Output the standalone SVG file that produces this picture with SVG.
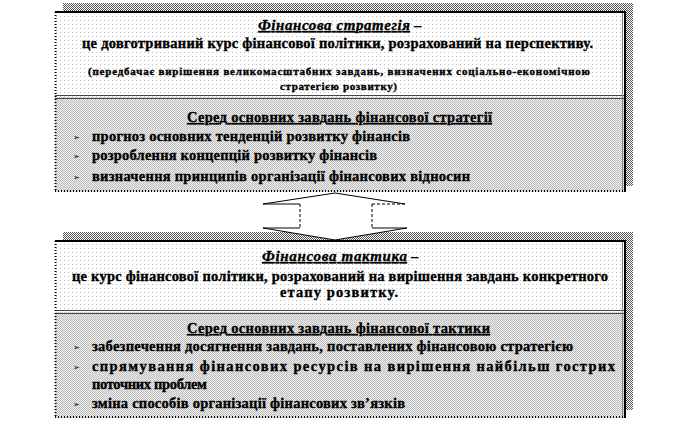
<svg xmlns="http://www.w3.org/2000/svg" width="696" height="424" viewBox="0 0 696 424">
<defs>
  <pattern id="hatch" width="2" height="2" patternUnits="userSpaceOnUse">
    <rect width="2" height="2" fill="#ffffff"/>
    <rect width="1" height="1" fill="#555555"/>
    <rect x="1" y="1" width="1" height="1" fill="#555555"/>
  </pattern>
  <pattern id="dots" width="4" height="4" patternUnits="userSpaceOnUse">
    <rect width="4" height="4" fill="#ffffff"/>
    <rect width="1" height="1" fill="#bdbdbd"/>
  </pattern>
  <pattern id="dense" width="2" height="2" patternUnits="userSpaceOnUse">
    <rect width="2" height="2" fill="#f0f0f0"/>
    <rect width="1" height="1" fill="#bcbcbc"/>
    <rect x="1" y="1" width="1" height="1" fill="#bcbcbc"/>
  </pattern>
  <style>
    .t{font-family:"Liberation Serif","Times New Roman",serif;font-weight:bold;fill:#000;stroke:#000;stroke-width:0.35}
    .m{font-size:14.5px}
    .s{font-size:11px}
    .ti{font-size:15px;font-style:italic;text-decoration:underline}
    .u{text-decoration:underline}
    .b{font-family:"DejaVu Sans",sans-serif;font-size:8px;fill:#000}
    .solid{stroke:#000;stroke-width:2;fill:none}
    .dot{stroke:#000;stroke-width:2;stroke-dasharray:1 2;fill:none}
    .div{stroke:#444;stroke-width:1;fill:none}
  </style>
</defs>

<g id="strategy">
  <rect x="63" y="3" width="570" height="183" fill="url(#hatch)"/>
  <rect x="55" y="12" width="570" height="85" fill="url(#dots)"/>
  <rect x="55" y="97" width="570" height="95" fill="url(#dense)"/>
  <line class="div" x1="55" y1="95.5" x2="625" y2="95.5"/>
  <line class="div" x1="55" y1="98.5" x2="625" y2="98.5"/>
  <line class="solid" x1="55" y1="12" x2="626" y2="12"/>
  <line class="solid" x1="625" y1="11" x2="625" y2="192"/>
  <line x1="622.5" y1="13" x2="622.5" y2="191" stroke="#888" stroke-width="1"/>
  <line class="dot" x1="55.5" y1="12" x2="55.5" y2="192"/>
  <line class="dot" x1="55" y1="191" x2="625" y2="191"/>
  <text class="t ti" x="258" y="30" textLength="152">Фінансова стратегія</text>
  <text class="t m" x="414" y="30">–</text>
  <text class="t m" x="82" y="48" textLength="511">це довготриваний курс фінансової політики, розрахований на перспективу.</text>
  <text class="t s" x="88" y="75" textLength="502">(передбачає вирішення великомасштабних  завдань, визначених соціально-економічною</text>
  <text class="t s" x="280" y="90" textLength="117">стратегією розвитку)</text>
  <text class="t m u" x="187" y="122" textLength="305">Серед основних завдань фінансової стратегії</text>
  <text class="b" x="73" y="140">➢</text>
  <text class="t m" x="92" y="141" textLength="318">прогноз основних тенденцій розвитку фінансів</text>
  <text class="b" x="73" y="159">➢</text>
  <text class="t m" x="92" y="160" textLength="285">розроблення концепцій розвитку фінансів</text>
  <text class="b" x="73" y="180">➢</text>
  <text class="t m" x="92" y="181" textLength="378">визначення принципів організації фінансових відносин</text>
</g>

<g id="tactics">
  <rect x="63" y="232" width="570" height="178" fill="url(#hatch)"/>
  <rect x="55" y="241" width="570" height="71" fill="url(#dots)"/>
  <rect x="55" y="312" width="570" height="106" fill="url(#dense)"/>
  <line class="div" x1="55" y1="310.5" x2="625" y2="310.5"/>
  <line class="div" x1="55" y1="313.5" x2="625" y2="313.5"/>
  <line class="solid" x1="55" y1="241" x2="626" y2="241"/>
  <line class="solid" x1="625" y1="240" x2="625" y2="418"/>
  <line x1="622.5" y1="242" x2="622.5" y2="417" stroke="#888" stroke-width="1"/>
  <line class="dot" x1="55.5" y1="241" x2="55.5" y2="418"/>
  <line class="dot" x1="55" y1="417" x2="625" y2="417"/>
  <text class="t ti" x="262" y="261" textLength="145">Фінансова тактика</text>
  <text class="t m" x="411" y="261">–</text>
  <text class="t m" x="72" y="281" textLength="536">це курс фінансової політики, розрахований на вирішення завдань конкретного</text>
  <text class="t m" x="280" y="297" textLength="118">етапу розвитку.</text>
  <text class="t m u" x="187" y="333" textLength="303">Серед основних завдань фінансової тактики</text>
  <text class="b" x="73" y="350">➢</text>
  <text class="t m" x="92" y="351" textLength="481">забезпечення досягнення завдань, поставлених фінансовою стратегією</text>
  <text class="b" x="73" y="370">➢</text>
  <text class="t m" x="92" y="371" textLength="523">спрямування   фінансових   ресурсів   на   вирішення   найбільш   гострих</text>
  <text class="t m" x="92" y="389" textLength="115">поточних проблем</text>
  <text class="b" x="73" y="407">➢</text>
  <text class="t m" x="92" y="408" textLength="313">зміна способів організації фінансових зв’язків</text>
</g>

<g id="connectors">
  <polygon points="335,193 405,204 372,204 372,228 407,228 335,240 263,228 300,228 300,204 263,204" fill="#ffffff"/>
  <polyline points="263,204 335,193 405,204" fill="none" stroke="#000" stroke-width="1"/>
  <polyline points="263,228 335,240 407,228" fill="none" stroke="#000" stroke-width="1"/>
  <line x1="263" y1="204" x2="300" y2="204" stroke="#000" stroke-width="1"/>
  <line x1="372" y1="204" x2="405" y2="204" stroke="#000" stroke-width="1" stroke-dasharray="3 2"/>
  <line x1="263" y1="228" x2="300" y2="228" stroke="#000" stroke-width="1"/>
  <line x1="372" y1="228" x2="407" y2="228" stroke="#000" stroke-width="1"/>
  <line x1="300" y1="204" x2="300" y2="228" stroke="#000" stroke-width="1" stroke-dasharray="3 2"/>
  <line x1="372" y1="204" x2="372" y2="228" stroke="#000" stroke-width="1" stroke-dasharray="3 2"/>
</g>
</svg>
